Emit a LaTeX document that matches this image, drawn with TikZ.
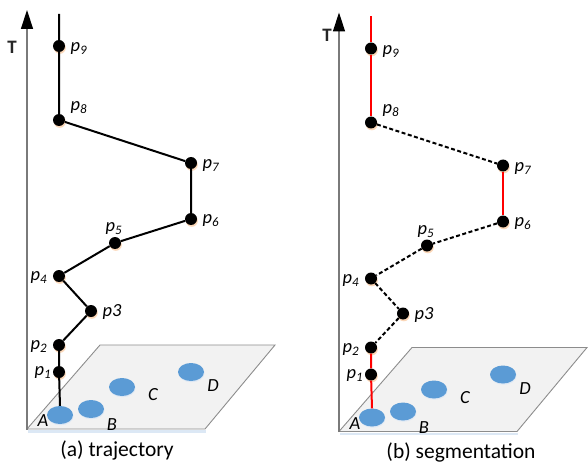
\documentclass[tikz,border=0pt]{standalone}
\usepackage{fontspec}
\setmainfont{Carlito}
\usetikzlibrary{arrows.meta,shapes.geometric,shadows}
\definecolor{blobc}{HTML}{5B9BD5}
\definecolor{planec}{HTML}{F2F2F2}
\definecolor{edgegray}{HTML}{8C8C8C}
\definecolor{axisgray}{HTML}{7A7A7A}
\definecolor{segred}{HTML}{FF0000}
\definecolor{glowc}{HTML}{FBD3B0}
\definecolor{blueglow}{HTML}{DCE8F5}
\begin{document}
\begin{tikzpicture}[x=1pt,y=-1pt,
  pt/.style={circle,fill=black,inner sep=0pt,minimum size=12pt,
    drop shadow={shadow xshift=0.8pt,shadow yshift=-1.8pt,fill=glowc,opacity=0.9}},
  blob/.style={ellipse,fill=blobc,inner sep=0pt,minimum width=26pt,minimum height=18pt,
    drop shadow={shadow xshift=0.5pt,shadow yshift=-1.2pt,fill=blueglow,opacity=0.9}},
  lbl/.style={font=\fontsize{18.5}{22}\selectfont\itshape,inner sep=0pt},
  captext/.style={font=\fontsize{21.5}{26}\selectfont,inner sep=0pt},
  tlbl/.style={font=\fontsize{19}{22}\selectfont\bfseries,inner sep=0pt,text=black!85},
  traj/.style={line width=2pt,black},
  seg/.style={line width=2pt,segred},
  gap/.style={line width=2pt,black,dash pattern=on 4pt off 2.5pt},
  planest/.style={fill=planec,draw=edgegray,line width=0.9pt},
  axis/.style={line width=1.4pt,axisgray,-{Triangle[length=19pt,width=12pt,color=black]}}
]
\useasboundingbox (0,0) rectangle (588,465);

% ---------------- panel (a)
\fill[blueglow] (28,430) -- (206,430) -- (206,432.5) -- (28,432.5) -- cycle;
\draw[planest] (27,429) -- (205,429) -- (275,345) -- (100,345) -- cycle;
\coordinate (aorig) at (27,429.5);
\coordinate (aax) at (27,10);
\draw[axis] (aorig) -- (aax);
\node[tlbl] (aT) at (12,47) {T};

\node[blob] (aA) at (60,415) {};
\node[blob] (aB) at (91,409) {};
\node[blob] (aC) at (122,387) {};
\node[blob] (aD) at (191,372) {};
\node[lbl] (laA) at (43,421) {A};
\node[lbl] (laB) at (112,425) {B};
\node[lbl] (laC) at (153,395) {C};
\node[lbl] (laD) at (213,386) {D};

\coordinate (atop) at (59,14);
\node[pt] (a9) at (59,46) {};
\node[pt] (a8) at (59,120) {};
\node[pt] (a7) at (191,163) {};
\node[pt] (a6) at (191,219) {};
\node[pt] (a5) at (115,243) {};
\node[pt] (a4) at (59,276) {};
\node[pt] (a3) at (91,311) {};
\node[pt] (a2) at (59,345) {};
\node[pt] (a1) at (59,372) {};

\draw[traj] (atop) -- (a9) -- (a8) -- (a7) -- (a6) -- (a5) -- (a4) -- (a3) -- (a2) -- (a1) -- (aA.north);

\node[lbl] (la9) at (79,49) {p\textsubscript{9}};
\node[lbl] (la8) at (79,108) {p\textsubscript{8}};
\node[lbl] (la7) at (211,166) {p\textsubscript{7}};
\node[lbl] (la6) at (211,221) {p\textsubscript{6}};
\node[lbl] (la5) at (114,229) {p\textsubscript{5}};
\node[lbl] (la4) at (39,278) {p\textsubscript{4}};
\node[lbl] (la3) at (112,312) {p3};
\node[lbl] (la2) at (39,347) {p\textsubscript{2}};
\node[lbl] (la1) at (43,373) {p\textsubscript{1}};

\node[captext] (capa) at (117,450) {(a) trajectory};

% ---------------- panel (b)
\begin{scope}[shift={(312,2.5)}]
\fill[blueglow] (28,430) -- (206,430) -- (206,432.5) -- (28,432.5) -- cycle;
\draw[planest] (27,429) -- (205,429) -- (275,345) -- (100,345) -- cycle;
\coordinate (borig) at (27,429.5);
\coordinate (bax) at (27,10);
\draw[axis] (borig) -- (bax);
\node[tlbl] (bT) at (15,32.5) {T};

\node[blob] (bA) at (60,415) {};
\node[blob] (bB) at (91,409) {};
\node[blob] (bC) at (122,387) {};
\node[blob] (bD) at (191,372) {};
\node[lbl] (lbA) at (43,421) {A};
\node[lbl] (lbB) at (112,425) {B};
\node[lbl] (lbC) at (153,395) {C};
\node[lbl] (lbD) at (213,386) {D};

\coordinate (btop) at (59,14);
\node[pt] (b9) at (59,46) {};
\node[pt] (b8) at (59,120) {};
\node[pt] (b7) at (191,163) {};
\node[pt] (b6) at (191,219) {};
\node[pt] (b5) at (115,243) {};
\node[pt] (b4) at (59,276) {};
\node[pt] (b3) at (91,311) {};
\node[pt] (b2) at (59,345) {};
\node[pt] (b1) at (59,372) {};

\draw[seg] (btop) -- (b9) -- (b8);
\draw[gap] (b8) -- (b7);
\draw[seg] (b7) -- (b6);
\draw[gap] (b6) -- (b5) -- (b4) -- (b3) -- (b2);
\draw[seg] (b2) -- (b1) -- (bA.north);

\node[lbl] (lb9) at (79,49) {p\textsubscript{9}};
\node[lbl] (lb8) at (79,108) {p\textsubscript{8}};
\node[lbl] (lb7) at (211,166) {p\textsubscript{7}};
\node[lbl] (lb6) at (211,221) {p\textsubscript{6}};
\node[lbl] (lb5) at (114,229) {p\textsubscript{5}};
\node[lbl] (lb4) at (39,278) {p\textsubscript{4}};
\node[lbl] (lb3) at (112,312) {p3};
\node[lbl] (lb2) at (39,347) {p\textsubscript{2}};
\node[lbl] (lb1) at (43,373) {p\textsubscript{1}};

\node[captext] (capb) at (149,449.5) {(b) segmentation};
\end{scope}
\end{tikzpicture}
\end{document}
